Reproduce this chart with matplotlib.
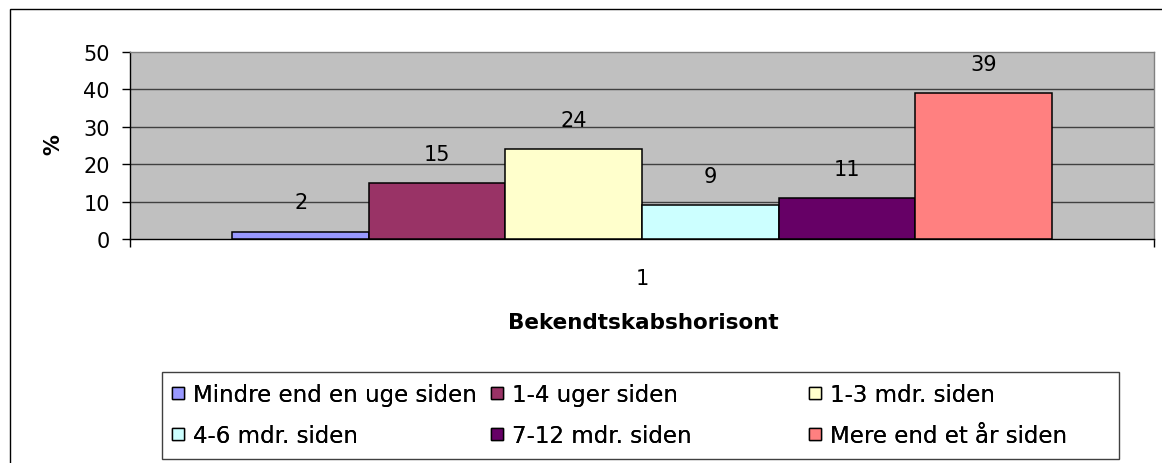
import matplotlib
matplotlib.use("Agg")
import matplotlib.pyplot as plt
from matplotlib.lines import Line2D
from matplotlib.patches import Rectangle

# ---- data ----
categories = ["1"]
series_names = ["Mindre end en uge siden", "1-4 uger siden", "1-3 mdr. siden",
                "4-6 mdr. siden", "7-12 mdr. siden", "Mere end et år siden"]
values = [2, 15, 24, 9, 11, 39]
colors = ["#9999FF", "#993366", "#FFFFCC", "#CCFFFF", "#660066", "#FF8080"]
y_ticks = [0, 10, 20, 30, 40, 50]
y_label = "%"
x_label = "Bekendtskabshorisont"

plt.rcParams['font.family'] = ['DejaVu Sans']

W, H = 1162, 464
fig = plt.figure(figsize=(W / 100, H / 100), dpi=100)
fig.patch.set_facecolor("white")

def fx(px):
    return px / W

def fy(py):
    return 1 - py / H

# outer chart frame
fig.patches.append(Rectangle((fx(10), fy(480)), fx(1200), fy(10) - fy(480),
                             transform=fig.transFigure, fill=False,
                             edgecolor="black", lw=1.0))

# plot area
ax = fig.add_axes([fx(130), fy(240), fx(1154) - fx(130), fy(53) - fy(240)])
ax.set_facecolor("#C0C0C0")

n = len(series_names)
gap = 1.5
w = 1.0 / (n + gap)
for i, (name, v, c) in enumerate(zip(series_names, values, colors)):
    x = (i - (n - 1) / 2) * w
    ax.bar([x], [v], width=w, color=c, edgecolor="black", linewidth=1.1,
           label=name, zorder=3)
    ax.annotate(str(v), xy=(x, v), xytext=(0, 21), textcoords="offset points",
                ha="center", va="center", fontsize=15, color="black", zorder=4)

ax.set_xlim(-0.5, 0.5)
ax.set_ylim(0, 50)
ax.set_yticks(y_ticks)
for yv in y_ticks[1:-1]:
    ax.axhline(yv, color="#404040", lw=1.0, zorder=1)

ax.set_xticks([0])
ax.set_xticklabels(categories, fontsize=15)
ax.set_xticks([-0.5, 0.5], minor=True)
ax.tick_params(axis="x", which="major", length=0, pad=21)
ax.tick_params(axis="x", which="minor", length=6, width=1, direction="out", color="black")
ax.tick_params(axis="y", length=6, width=1, direction="out", pad=8.5, labelsize=15)

for s in ["left", "bottom"]:
    ax.spines[s].set_color("black")
    ax.spines[s].set_linewidth(1.0)
for s in ["top", "right"]:
    ax.spines[s].set_color("#808080")
    ax.spines[s].set_linewidth(1.0)

ax.set_xlabel(x_label, fontsize=15.5, fontweight="bold", va="center")
ax.xaxis.set_label_coords(0.501, (240 - 323) / (240 - 53))
ax.set_ylabel(y_label, fontsize=15, fontweight="bold", va="center")
ax.yaxis.set_label_coords((53 - 130) / 1024, (240 - 145) / (240 - 53))

# legend frame
fig.patches.append(Rectangle((fx(162), fy(460)), fx(1119) - fx(162), fy(373) - fy(460),
                             transform=fig.transFigure, fill=False,
                             edgecolor="#404040", lw=1.0))

handles = [Line2D([], [], marker="s", linestyle="none", markersize=8.5,
                  markerfacecolor=c, markeredgecolor="black", markeredgewidth=1.0)
           for c in colors]
col_x = [171, 490, 808]
ncol = 3
for ci in range(ncol):
    idx = [ci, ci + ncol]
    leg = fig.legend([handles[k] for k in idx], [series_names[k] for k in idx],
                     loc="center left", bbox_to_anchor=(fx(col_x[ci]), fy(416)),
                     bbox_transform=fig.transFigure, frameon=False,
                     fontsize=16.5, borderpad=0, borderaxespad=0,
                     handlelength=0.6, handletextpad=0.35, labelspacing=0.75)
    fig.add_artist(leg)

fig.savefig("out.png", dpi=100)
